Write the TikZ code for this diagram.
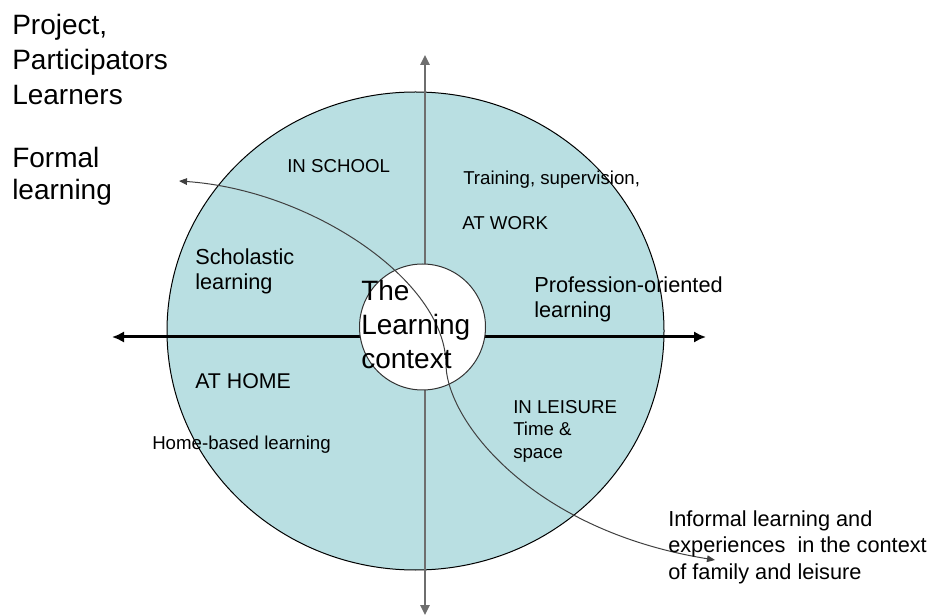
\documentclass[tikz,border=0pt]{standalone}
\usepackage{fontspec}
\setmainfont{Liberation Sans}
\usetikzlibrary{arrows.meta}
\definecolor{ringblue}{RGB}{185,223,226}
\definecolor{axisgray}{RGB}{110,110,110}
\tikzset{
  txt/.style={anchor=north west, inner sep=0pt, align=left},
  bigtxt/.style={txt, font=\fontsize{21}{26.25}\selectfont},
  midtxt/.style={txt, font=\fontsize{16.3}{18.75}\selectfont},
  smalltxt/.style={txt, font=\fontsize{14}{16.9}\selectfont},
}
\begin{document}
\begin{tikzpicture}[x=0.75pt,y=-0.75pt]
        \useasboundingbox (0,0) rectangle (932,616);
        % the ring and its centre
        \filldraw[fill=ringblue, draw=black, line width=0.75pt] (415.5,331) ellipse [x radius=248.5, y radius=239];

        \coordinate (hl) at (112,337);
        \coordinate (hr) at (706,337);
        \coordinate (vt) at (425,55);
        \coordinate (vb) at (425,615);
        \draw[line width=2.25pt, {Latex[length=9pt,width=8.5pt]}-{Latex[length=9pt,width=8.5pt]}] (hl) -- (hr);
        \draw[axisgray, line width=1.5pt, {Triangle[length=7.5pt,width=7pt]}-{Triangle[length=7.5pt,width=7pt]}] (vt) -- (vb);

        \filldraw[fill=white, draw=black!80, line width=0.75pt] (422.5,327) circle [radius=63];

        % formal -> informal
        \coordinate (fs) at (179,181);
        \coordinate (fm) at (446,365);
        \coordinate (fe) at (715,560);
        \draw[black!75, line width=0.75pt, {Triangle[length=6pt,width=5pt]}-{Triangle[length=6pt,width=5pt]}]
            (fs) .. controls (310,190) and (446,280) .. (fm)
                 .. controls (447,420) and (530,530) .. (fe);

        \node[bigtxt] (who) at (12,14) {Project,\\Participators\\Learners};
        \node[bigtxt, font=\fontsize{21}{24}\selectfont] (formal) at (12,147) {Formal\\learning};
        \node[bigtxt, font=\fontsize{21}{25.5}\selectfont] (ctx) at (361,280) {The\\Learning\\context};

        \node[smalltxt] (school) at (287,159) {IN SCHOOL};
        \node[smalltxt] (train) at (463,171) {Training, supervision,};
        \node[smalltxt] (work) at (462,216) {AT WORK};
        \node[midtxt] (schol) at (195,248) {Scholastic\\learning};
        \node[midtxt] (prof) at (534,276) {Profession-oriented\\learning};
        \node[midtxt, font=\fontsize{16}{18.75}\selectfont] (home) at (195,373) {AT HOME};
        \node[smalltxt] (homel) at (152,436) {Home-based learning};
        \node[smalltxt] (leis) at (513,400) {IN LEISURE\\Time \&\\space};
        \node[midtxt, font=\fontsize{16.3}{19.9}\selectfont] (inform) at (668,510) {Informal learning and\\experiences\ \ in the context\\of family and leisure};
    \end{tikzpicture}
\end{document}
